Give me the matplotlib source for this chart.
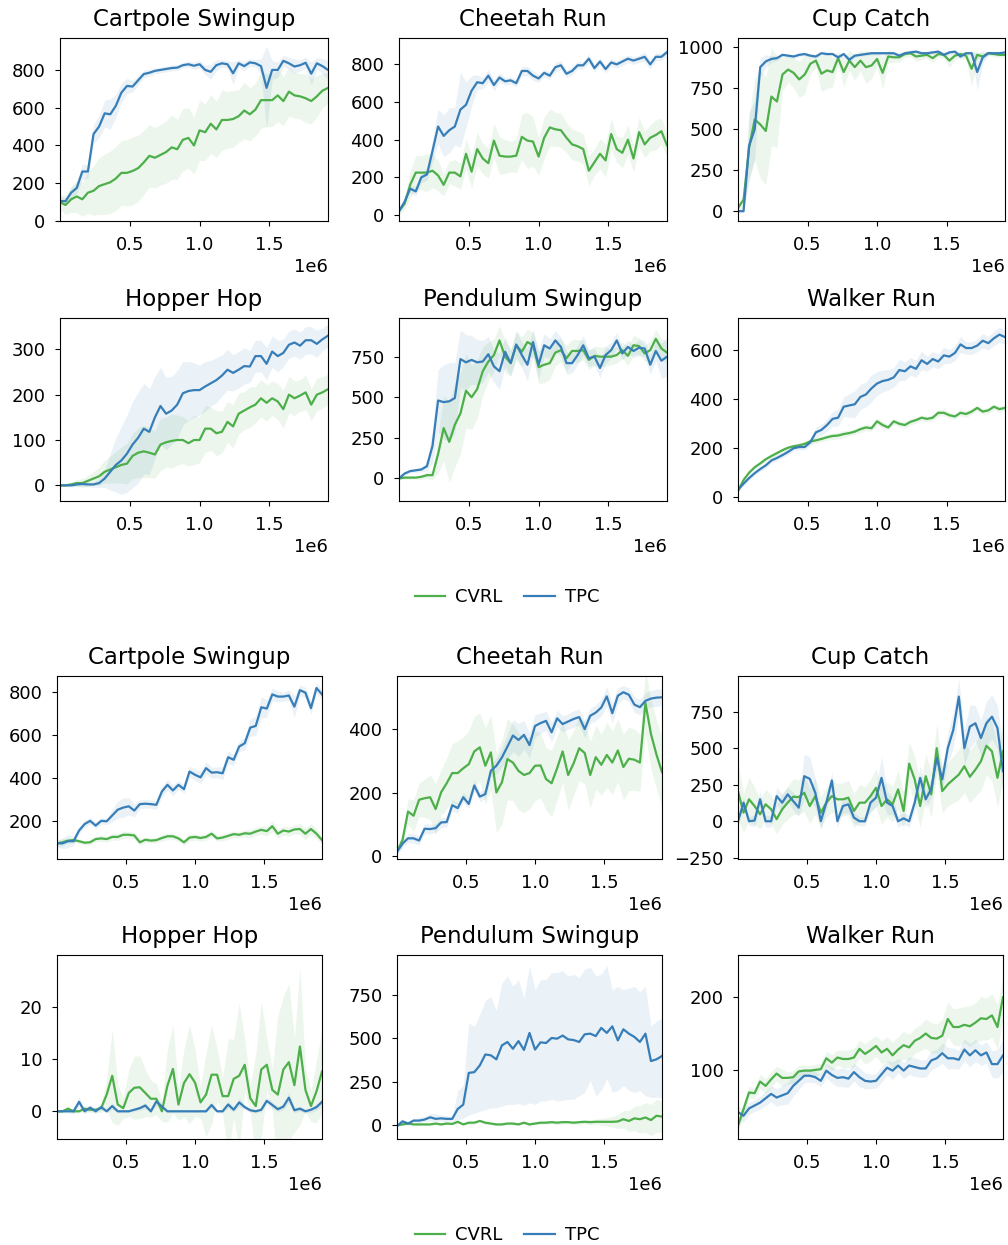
import numpy as np
import matplotlib
matplotlib.use("Agg")
import matplotlib.pyplot as plt
from matplotlib.lines import Line2D

# ---------------- data ----------------
steps = [i * 40000 for i in range(49)]

# Top group
cartpole1_cvrl = [100,85,115,130,115,150,160,185,195,205,225,255,255,265,280,310,345,335,350,365,390,380,430,440,400,480,470,515,485,535,535,540,555,585,565,590,640,640,640,665,635,685,665,660,650,635,660,690,705]
cartpole1_cvrl_sd = [40,50,70,85,90,110,130,150,160,165,170,170,175,180,175,170,165,160,160,165,170,160,165,160,150,160,150,155,150,160,150,150,140,150,140,140,150,140,140,140,130,130,120,120,130,120,110,90,80]
cartpole1_tpc = [106,105,150,175,262,262,460,500,570,565,610,680,715,712,745,778,785,795,800,805,810,812,825,830,822,830,800,790,825,835,830,782,835,820,840,835,820,705,800,800,848,835,818,825,838,780,835,820,800]
cartpole1_tpc_sd = [20,20,25,30,40,35,50,60,70,80,60,50,40,30,25,20,18,15,15,15,15,15,15,15,20,20,25,40,30,20,20,60,20,25,20,20,40,220,50,40,30,30,40,30,30,60,30,40,50]

cheetah1_cvrl = [20,60,160,225,225,225,235,210,160,225,225,205,325,230,350,300,275,395,315,310,310,315,415,395,390,310,410,465,455,450,410,375,365,350,235,280,325,290,430,350,330,400,300,440,375,410,425,445,370]
cheetah1_cvrl_sd = [15,30,70,90,90,100,90,80,60,60,70,70,80,90,90,80,80,90,100,90,80,90,120,150,130,100,110,100,90,90,80,80,80,80,80,70,80,90,80,70,80,80,70,80,70,70,80,70,60]
cheetah1_tpc = [20,70,140,125,200,215,340,470,420,450,470,560,585,660,705,700,740,690,730,710,715,700,765,765,740,725,755,740,785,795,750,765,795,795,830,780,815,775,810,800,815,830,820,830,840,800,840,840,865]
cheetah1_tpc_sd = [10,15,20,25,30,30,60,90,110,120,100,200,120,80,40,30,30,30,25,20,20,20,25,25,25,20,20,20,25,25,20,20,20,20,25,20,20,20,20,20,20,20,20,20,25,25,20,20,20]

cup1_cvrl = [20,70,390,560,530,490,700,670,835,865,845,805,835,900,920,840,860,850,935,850,920,880,920,880,890,930,845,945,940,940,960,965,945,950,955,935,960,955,920,950,960,950,870,955,945,965,960,955,955]
cup1_cvrl_sd = [20,40,200,250,330,330,300,280,100,80,90,110,120,60,40,110,110,90,40,90,60,80,60,100,80,40,100,40,30,30,20,20,30,25,20,30,20,20,40,25,20,25,110,20,20,15,15,15,15]
cup1_tpc = [0,0,400,500,880,915,930,935,955,950,945,955,960,950,945,965,960,960,940,960,925,950,955,960,965,965,965,965,965,950,965,970,975,965,965,970,975,955,970,975,945,965,965,850,940,965,965,965,970]
cup1_tpc_sd = [5,5,200,180,60,40,20,15,12,12,12,12,10,10,10,10,10,10,15,10,20,10,10,10,10,10,10,10,10,10,10,10,10,10,10,10,10,15,10,10,20,10,10,110,40,10,10,10,10]

hopper1_cvrl = [0,0,2,5,5,10,15,20,30,35,40,45,48,65,72,75,72,68,90,95,98,100,100,93,100,100,125,125,115,118,140,130,158,165,172,178,192,182,192,185,168,200,192,198,205,178,200,205,212]
hopper1_cvrl_sd = [2,3,5,8,10,12,15,20,25,30,35,40,45,50,55,58,55,52,58,55,60,55,52,50,55,50,52,48,50,46,45,48,45,42,45,40,42,40,38,40,42,40,38,35,38,35,36,35,33]
hopper1_tpc = [0,0,0,2,3,2,2,5,15,30,45,55,70,90,105,125,118,150,175,158,165,178,203,208,210,210,218,225,232,242,255,248,255,263,262,285,285,268,295,285,292,310,315,308,320,320,312,322,330]
hopper1_tpc_sd = [2,2,3,4,5,5,6,10,20,40,60,75,85,95,100,100,95,90,85,80,75,75,70,65,60,55,55,50,50,45,45,40,40,40,35,35,35,35,35,35,30,30,30,30,30,30,30,25,25]

pendulum1_cvrl = [0,5,5,5,10,20,20,150,310,225,330,400,540,500,550,660,720,760,850,750,710,820,780,840,820,685,700,710,775,790,740,785,785,790,730,755,750,750,750,760,790,755,820,815,770,790,860,800,775]
pendulum1_cvrl_sd = [10,10,10,10,15,20,30,120,200,250,260,250,230,200,180,150,120,100,90,100,80,90,90,80,80,100,110,100,80,70,80,70,70,60,60,60,60,60,50,50,50,60,60,50,50,60,60,60,70]
pendulum1_tpc = [0,30,45,50,55,75,200,480,470,475,495,735,715,730,715,720,765,690,660,780,710,825,760,700,840,700,820,800,850,810,710,710,760,820,740,750,680,760,790,850,770,810,785,805,800,700,785,725,750]
pendulum1_tpc_sd = [10,10,12,12,15,30,100,190,230,240,220,180,170,150,140,130,110,100,110,90,80,80,80,100,80,90,70,60,60,60,70,60,60,60,50,50,60,50,50,50,40,40,40,50,50,60,60,110,120]

walker1_cvrl = [25,70,100,122,138,155,168,180,192,202,208,212,218,228,232,238,245,250,252,258,262,268,278,285,282,310,295,285,310,300,295,308,315,325,320,325,345,345,335,330,345,340,350,365,350,355,370,360,365]
walker1_cvrl_sd = [6,6,7,8,8,9,9,10,10,10,10,10,12,12,12,12,12,14,14,14,12,12,14,14,12,14,14,12,12,12,12,14,12,12,12,12,14,12,12,12,12,14,12,12,12,12,12,12,12]
walker1_tpc = [30,55,78,98,115,130,150,160,172,185,200,205,205,225,265,275,295,320,325,370,375,380,410,420,445,465,475,480,490,520,515,535,525,560,545,565,555,580,575,590,625,610,610,620,640,630,650,665,655]
walker1_tpc_sd = [8,8,9,8,10,10,11,10,10,12,10,12,12,15,20,22,25,30,35,40,48,55,52,50,55,48,45,42,40,44,38,36,35,38,30,32,30,34,28,30,32,25,26,25,30,28,30,32,30]

# Bottom group
cartpole2_cvrl = [95,100,108,110,105,98,100,115,118,115,125,125,135,135,132,100,112,108,110,120,128,128,118,100,122,125,120,125,140,118,122,130,138,135,142,140,150,158,152,175,140,155,150,160,162,140,162,140,110]
cartpole2_cvrl_sd = [15,16,12,10,11,10,12,12,15,14,16,15,18,15,16,14,12,13,12,15,16,15,14,15,16,15,14,16,15,14,15,16,15,14,16,20,18,20,22,25,20,22,20,21,25,28,25,24,20]
cartpole2_tpc = [95,95,105,105,155,185,200,178,200,198,225,252,262,268,248,278,280,278,275,337,368,342,368,348,430,415,403,446,425,427,422,497,485,547,562,635,643,730,724,790,780,780,785,733,810,798,726,820,790]
cartpole2_tpc_sd = [15,25,30,20,15,15,15,15,15,15,30,40,45,40,30,20,20,20,20,25,25,25,20,20,25,25,30,30,25,25,30,30,25,25,30,40,45,50,40,30,25,20,25,50,25,25,30,25,25]

cheetah2_cvrl = [15,52,141,128,178,183,186,149,202,230,262,262,277,290,330,343,285,327,201,233,306,295,269,256,262,285,286,243,230,277,330,256,293,340,325,256,312,288,319,295,333,281,307,304,295,482,385,320,265]
cheetah2_cvrl_sd = [10,20,40,50,52,60,70,80,72,80,92,100,98,105,110,108,120,118,125,132,128,120,122,118,112,110,102,98,104,100,96,110,102,100,98,104,100,96,102,100,98,104,100,96,90,100,110,108,110]
cheetah2_tpc = [15,40,57,57,50,87,86,89,107,108,161,152,186,165,223,188,196,269,285,311,345,380,366,382,350,410,419,426,390,434,416,424,432,438,400,442,452,468,503,450,505,516,508,477,469,489,496,499,500]
cheetah2_tpc_sd = [10,12,14,15,14,16,15,14,16,15,18,15,16,15,18,16,15,20,25,30,40,50,52,45,40,36,32,30,30,26,25,24,26,25,28,24,25,26,30,32,25,20,22,25,24,26,25,28,25]

cup2_cvrl = [206,59,150,104,48,116,82,14,82,127,168,165,195,104,172,59,127,172,150,150,161,70,127,127,172,229,104,150,116,218,70,394,286,104,308,184,500,206,252,286,319,376,304,353,410,516,478,297,478]
cup2_cvrl_sd = [200,130,150,130,100,104,96,100,105,110,122,118,130,120,124,110,100,112,108,114,120,118,124,108,112,130,128,120,122,130,126,150,160,148,152,160,170,150,148,160,172,180,178,184,200,196,204,198,200]
cup2_tpc = [0,127,0,5,150,0,0,172,127,184,138,93,308,290,195,0,127,279,0,104,116,25,0,0,127,161,297,127,104,0,20,0,127,297,150,222,433,286,500,625,852,500,647,670,569,670,715,637,342]
cup2_tpc_sd = [30,40,30,40,60,40,40,60,60,50,60,60,150,150,100,50,50,60,40,50,60,40,30,30,60,60,150,80,60,40,40,40,60,80,60,60,80,80,100,120,120,120,150,120,120,150,150,150,150]

hopper2_cvrl = [0,0,0.5,0,0,0.5,0.3,0.3,0.6,3.2,6.8,1.3,0.6,3.5,4.5,4.6,3.5,2.4,2.4,0,4.9,8.1,1.3,5.4,7.1,5.5,1.7,3.2,7.0,7.0,2.9,2.9,6.2,6.8,8.9,2.5,1.0,8.0,8.9,4.1,3.2,8.0,9.4,5.0,12.4,4.1,1.0,3.8,7.6]
hopper2_cvrl_sd = [0.3,0.3,0.5,0.3,0.3,0.5,0.5,0.5,0.8,3,9,4,2,4.5,6,6,4.5,3.5,3,2,7,8.5,3,6.5,9.5,6.5,3,8,9.5,5,3.5,11,7.5,14,5,2.5,10,13,5,4,15,14,15,9,15,4,3,6,8]
hopper2_tpc = [0,0,0,0,1.8,0,0.7,0,0.8,0,1.0,0,0,0,0.3,0.6,1.1,0,1.9,0.9,0,0,0,0,0,0,0,0,1.2,0,0,1.3,0.3,1.7,0.8,0.2,0,0.3,2.0,1.2,0.4,0.9,2.6,0.2,0.5,0,0.3,0.8,1.8]
hopper2_tpc_sd = [0.2,0.2,0.3,0.5,1.0,0.5,0.6,0.4,0.5,0.3,0.6,0.3,0.2,0.2,0.3,0.4,0.6,0.3,0.8,0.6,0.3,0.2,0.2,0.2,0.2,0.2,0.2,0.2,0.6,0.3,0.3,0.7,0.4,0.8,0.5,0.4,0.3,0.4,0.8,0.6,0.5,0.6,1.0,0.5,0.5,0.4,0.5,0.6,0.8]

pendulum2_cvrl = [0,5,10,5,5,5,5,10,5,10,8,20,5,15,15,25,15,10,5,5,10,10,5,15,5,10,15,15,18,15,18,18,15,18,20,18,20,20,20,20,22,35,25,40,35,45,30,55,50]
pendulum2_cvrl_sd = [5,6,5,5,6,5,5,6,5,6,5,8,5,8,8,10,8,7,8,7,8,8,7,8,8,8,10,9,10,10,11,10,10,12,13,15,16,20,25,30,40,50,60,70,80,85,90,95,90]
pendulum2_tpc = [-5,23,10,27,27,33,46,37,40,37,37,94,119,302,306,345,408,403,380,460,480,441,485,434,532,436,478,474,503,499,517,495,491,480,524,528,514,561,532,570,489,553,528,509,480,528,370,380,399]
pendulum2_tpc_lo = [-10,15,0,15,15,20,25,20,25,20,25,30,40,60,70,80,90,100,100,110,120,120,125,115,130,120,140,140,150,140,145,150,150,170,190,260,170,200,270,190,200,230,200,190,200,170,160,160,160]
pendulum2_tpc_hi = [0,30,20,40,45,50,70,65,60,55,50,200,230,590,570,640,720,740,660,820,860,800,840,730,920,780,840,840,880,880,890,860,870,850,900,910,860,870,920,780,800,780,790,800,770,800,570,600,620]

walker2_cvrl = [23,46,69,68,84,78,87,95,89,89,90,98,99,99,100,101,116,110,117,115,115,117,129,122,127,133,124,129,120,128,134,131,140,144,150,144,143,147,170,159,159,162,160,165,171,170,175,159,200]
walker2_cvrl_sd = [8,9,8,8,10,10,11,10,12,8,9,8,8,7,8,8,10,11,10,12,12,13,12,14,15,14,16,17,18,18,19,18,17,18,20,21,20,22,24,25,26,25,28,27,30,29,30,31,30]
walker2_tpc = [42,37,47,51,55,61,67,62,65,68,78,85,92,92,90,85,99,93,89,90,88,97,90,85,84,85,94,103,99,106,99,106,104,102,102,113,116,123,116,116,114,128,120,127,120,124,108,108,120]
walker2_tpc_sd = [8,9,8,8,9,10,11,12,13,15,14,12,10,9,8,8,10,11,12,13,12,12,13,11,10,10,11,10,12,10,11,12,13,12,12,13,12,14,15,14,13,15,16,15,14,15,18,20,22]

titles = ["Cartpole Swingup", "Cheetah Run", "Cup Catch",
          "Hopper Hop", "Pendulum Swingup", "Walker Run"]
legend_labels = ["CVRL", "TPC"]

# ---------------- layout / styling ----------------
W, H = 1008, 1245
fig = plt.figure(figsize=(W / 100, H / 100), dpi=100)
GREEN = "#4daf4a"
BLUE = "#377eb8"
plt.rcParams['font.family'] = ['DejaVu Sans']

def px_axes(l, t, r, b):
    return fig.add_axes([l / W, 1 - b / H, (r - l) / W, (b - t) / H])

def band(mean, sd):
    m = np.asarray(mean, float)
    s = np.asarray(sd, float)
    return m - s, m + s

panels = [
    # title, cvrl, cvrl band, tpc, tpc band, ylim, yticks, rect(px: l,t,r,b)
    (titles[0], cartpole1_cvrl, band(cartpole1_cvrl, cartpole1_cvrl_sd), cartpole1_tpc, band(cartpole1_tpc, cartpole1_tpc_sd), (0, 969), [0, 200, 400, 600, 800], (60, 38, 328, 221)),
    (titles[1], cheetah1_cvrl, band(cheetah1_cvrl, cheetah1_cvrl_sd), cheetah1_tpc, band(cheetah1_tpc, cheetah1_tpc_sd), (-32, 940), [0, 200, 400, 600, 800], (399, 38, 667, 221)),
    (titles[2], cup1_cvrl, band(cup1_cvrl, cup1_cvrl_sd), cup1_tpc, band(cup1_tpc, cup1_tpc_sd), (-60, 1058), [0, 250, 500, 750, 1000], (738, 38, 1005, 221)),
    (titles[3], hopper1_cvrl, band(hopper1_cvrl, hopper1_cvrl_sd), hopper1_tpc, band(hopper1_tpc, hopper1_tpc_sd), (-34.5, 369), [0, 100, 200, 300], (60, 318, 328, 501)),
    (titles[4], pendulum1_cvrl, band(pendulum1_cvrl, pendulum1_cvrl_sd), pendulum1_tpc, band(pendulum1_tpc, pendulum1_tpc_sd), (-139, 988), [0, 250, 500, 750], (399, 318, 667, 501)),
    (titles[5], walker1_cvrl, band(walker1_cvrl, walker1_cvrl_sd), walker1_tpc, band(walker1_tpc, walker1_tpc_sd), (-16, 733), [0, 200, 400, 600], (738, 318, 1005, 501)),
    (titles[0], cartpole2_cvrl, band(cartpole2_cvrl, cartpole2_cvrl_sd), cartpole2_tpc, band(cartpole2_tpc, cartpole2_tpc_sd), (22, 876), [200, 400, 600, 800], (57, 676, 322, 859)),
    (titles[1], cheetah2_cvrl, band(cheetah2_cvrl, cheetah2_cvrl_sd), cheetah2_tpc, band(cheetah2_tpc, cheetah2_tpc_sd), (-8, 567), [0, 200, 400], (397, 676, 662, 859)),
    (titles[2], cup2_cvrl, band(cup2_cvrl, cup2_cvrl_sd), cup2_tpc, band(cup2_tpc, cup2_tpc_sd), (-258, 993), [-250, 0, 250, 500, 750], (738, 676, 1003, 859)),
    (titles[3], hopper2_cvrl, band(hopper2_cvrl, hopper2_cvrl_sd), hopper2_tpc, band(hopper2_tpc, hopper2_tpc_sd), (-5.3, 29.9), [0, 10, 20], (57, 955, 322, 1139)),
    (titles[4], pendulum2_cvrl, band(pendulum2_cvrl, pendulum2_cvrl_sd), pendulum2_tpc, (pendulum2_tpc_lo, pendulum2_tpc_hi), (-79, 981), [0, 250, 500, 750], (397, 955, 662, 1139)),
    (titles[5], walker2_cvrl, band(walker2_cvrl, walker2_cvrl_sd), walker2_tpc, band(walker2_tpc, walker2_tpc_sd), (5, 258), [100, 200], (738, 955, 1003, 1139)),
]

x = np.asarray(steps, float)
for title, cv, cvb, tp, tpb, ylim, yt, rect in panels:
    ax = px_axes(*rect)
    ax.fill_between(x, cvb[0], cvb[1], color=GREEN, alpha=0.1, linewidth=0)
    ax.fill_between(x, tpb[0], tpb[1], color=BLUE, alpha=0.1, linewidth=0)
    ax.plot(x, cv, color=GREEN, lw=1.6)
    ax.plot(x, tp, color=BLUE, lw=1.6)
    ax.set_xlim(x[0], x[-1])
    ax.set_ylim(*ylim)
    ax.set_xticks([0.5e6, 1.0e6, 1.5e6])
    ax.set_yticks(yt)
    ax.tick_params(labelsize=13, pad=7)
    ax.xaxis.get_offset_text().set_fontsize(13)
    ax.set_title(title, fontsize=16.5, pad=8.5)

handles = [Line2D([], [], color=GREEN, lw=1.6), Line2D([], [], color=BLUE, lw=1.6)]
for yc in (597, 1235):
    fig.legend(handles, legend_labels, loc="center", bbox_to_anchor=(507 / W, 1 - yc / H),
               ncol=2, frameon=False, fontsize=13, handlelength=1.7,
               handletextpad=0.55, columnspacing=1.2)

fig.savefig("out.png", dpi=100)
